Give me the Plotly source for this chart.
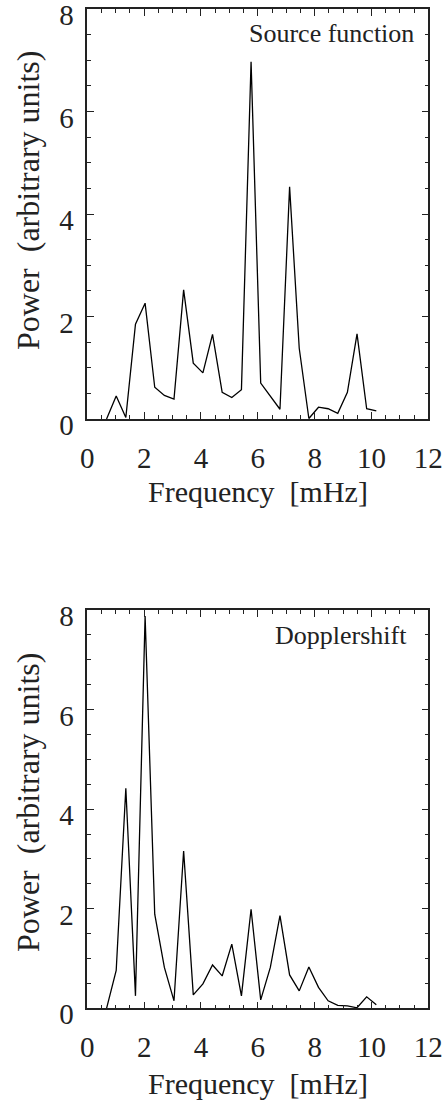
import plotly.graph_objects as go

W, H = 445, 1118

freq_step = 0.339
bins = list(range(2, 31))
freq = [round(k * freq_step, 3) for k in bins]

source_power = [0.0, 0.45, 0.03, 1.85, 2.26, 0.62, 0.46, 0.39, 2.52, 1.09,
                0.90, 1.65, 0.52, 0.42, 0.57, 6.97, 0.70, 0.44, 0.19, 4.53,
                1.38, 0.01, 0.23, 0.20, 0.11, 0.52, 1.66, 0.20, 0.16]
doppler_power = [0.0, 0.76, 4.42, 0.25, 7.88, 1.89, 0.82, 0.15, 3.16, 0.27,
                 0.49, 0.87, 0.65, 1.29, 0.25, 1.99, 0.17, 0.82, 1.86, 0.67,
                 0.35, 0.83, 0.42, 0.15, 0.06, 0.05, 0.01, 0.23, 0.07]

x_ticks = [0, 2, 4, 6, 8, 10, 12]
y_ticks = [0, 2, 4, 6, 8]
panel_labels = ["Source function", "Dopplershift"]
x_title = "Frequency  [mHz]"
y_title = "Power  (arbitrary units)"

FONT = "Liberation Serif"
TXT = "#222222"

# pixel boxes of the two panels (left, right, top, bottom)
boxes = [(87.3, 428.3, 9.0, 419.0), (87.3, 428.3, 610.0, 1008.3)]

def px(x):
    return x / W

def py(y):
    return 1 - y / H

fig = go.Figure()
fig.add_trace(go.Scatter(x=freq, y=source_power, mode="lines",
                         line=dict(color="black", width=1.3),
                         xaxis="x", yaxis="y", showlegend=False))
fig.add_trace(go.Scatter(x=freq, y=doppler_power, mode="lines",
                         line=dict(color="black", width=1.3),
                         xaxis="x2", yaxis="y2", showlegend=False))

def xax(dom, anchor):
    return dict(domain=dom, anchor=anchor, range=[0, 12], tickvals=x_ticks,
                ticks="inside", ticklen=7, tickwidth=1.2, tickcolor="#222",
                mirror="ticks", showline=True, linecolor="#222", linewidth=1.5,
                showgrid=False, zeroline=False, ticklabelstandoff=12,
                automargin=False, ticklabeloverflow="allow",
                tickfont=dict(family=FONT, size=29, color=TXT),
                minor=dict(dtick=0.5, ticks="inside", ticklen=4, tickwidth=1,
                           tickcolor="#222", showgrid=False))

def yax(dom, anchor):
    return dict(domain=dom, anchor=anchor, range=[0, 8], tickvals=y_ticks,
                ticks="inside", ticklen=7, tickwidth=1.2, tickcolor="#222",
                mirror="ticks", showline=True, linecolor="#222", linewidth=1.5,
                showgrid=False, zeroline=False, ticklabelstandoff=6,
                ticklabelshift=6,
                automargin=False, ticklabeloverflow="allow",
                tickfont=dict(family=FONT, size=29, color=TXT),
                minor=dict(dtick=0.5, ticks="inside", ticklen=4, tickwidth=1,
                           tickcolor="#222", showgrid=False))

def xd(b):
    return [px(b[0]), px(b[1])]

def yd(b):
    return [py(b[3]), py(b[2])]

annotations = []
annotations.append(dict(text=panel_labels[0], x=px(416), y=py(34), xref="paper", yref="paper",
                        xanchor="right", yanchor="middle", showarrow=False,
                        font=dict(family=FONT, size=26, color=TXT)))
annotations.append(dict(text=panel_labels[1], x=px(409), y=py(635), xref="paper", yref="paper",
                        xanchor="right", yanchor="middle", showarrow=False,
                        font=dict(family=FONT, size=26, color=TXT)))
for b, ty, yc in [(boxes[0], 491, 201), (boxes[1], 1083, 803)]:
    annotations.append(dict(text=x_title, x=px((b[0] + b[1]) / 2), y=py(ty),
                            xref="paper", yref="paper", xanchor="center", yanchor="middle",
                            showarrow=False, font=dict(family=FONT, size=30, color=TXT)))
    annotations.append(dict(text=y_title, x=px(28), y=py(yc), textangle=-90,
                            xref="paper", yref="paper", xanchor="center", yanchor="middle",
                            showarrow=False, font=dict(family=FONT, size=32, color=TXT)))

fig.update_layout(
    width=W, height=H, autosize=False,
    margin=dict(l=0, r=0, t=0, b=0, pad=0, autoexpand=False),
    paper_bgcolor="white", plot_bgcolor="white",
    xaxis=xax(xd(boxes[0]), "y"), yaxis=yax(yd(boxes[0]), "x"),
    xaxis2=xax(xd(boxes[1]), "y2"), yaxis2=yax(yd(boxes[1]), "x2"),
    annotations=annotations,
)

fig.write_html(
    "out.html",
    config={"displayModeBar": False},
    post_script="document.body.style.margin='0';"
                "document.documentElement.style.overflow='hidden';"
                "document.body.style.overflow='hidden';",
)
